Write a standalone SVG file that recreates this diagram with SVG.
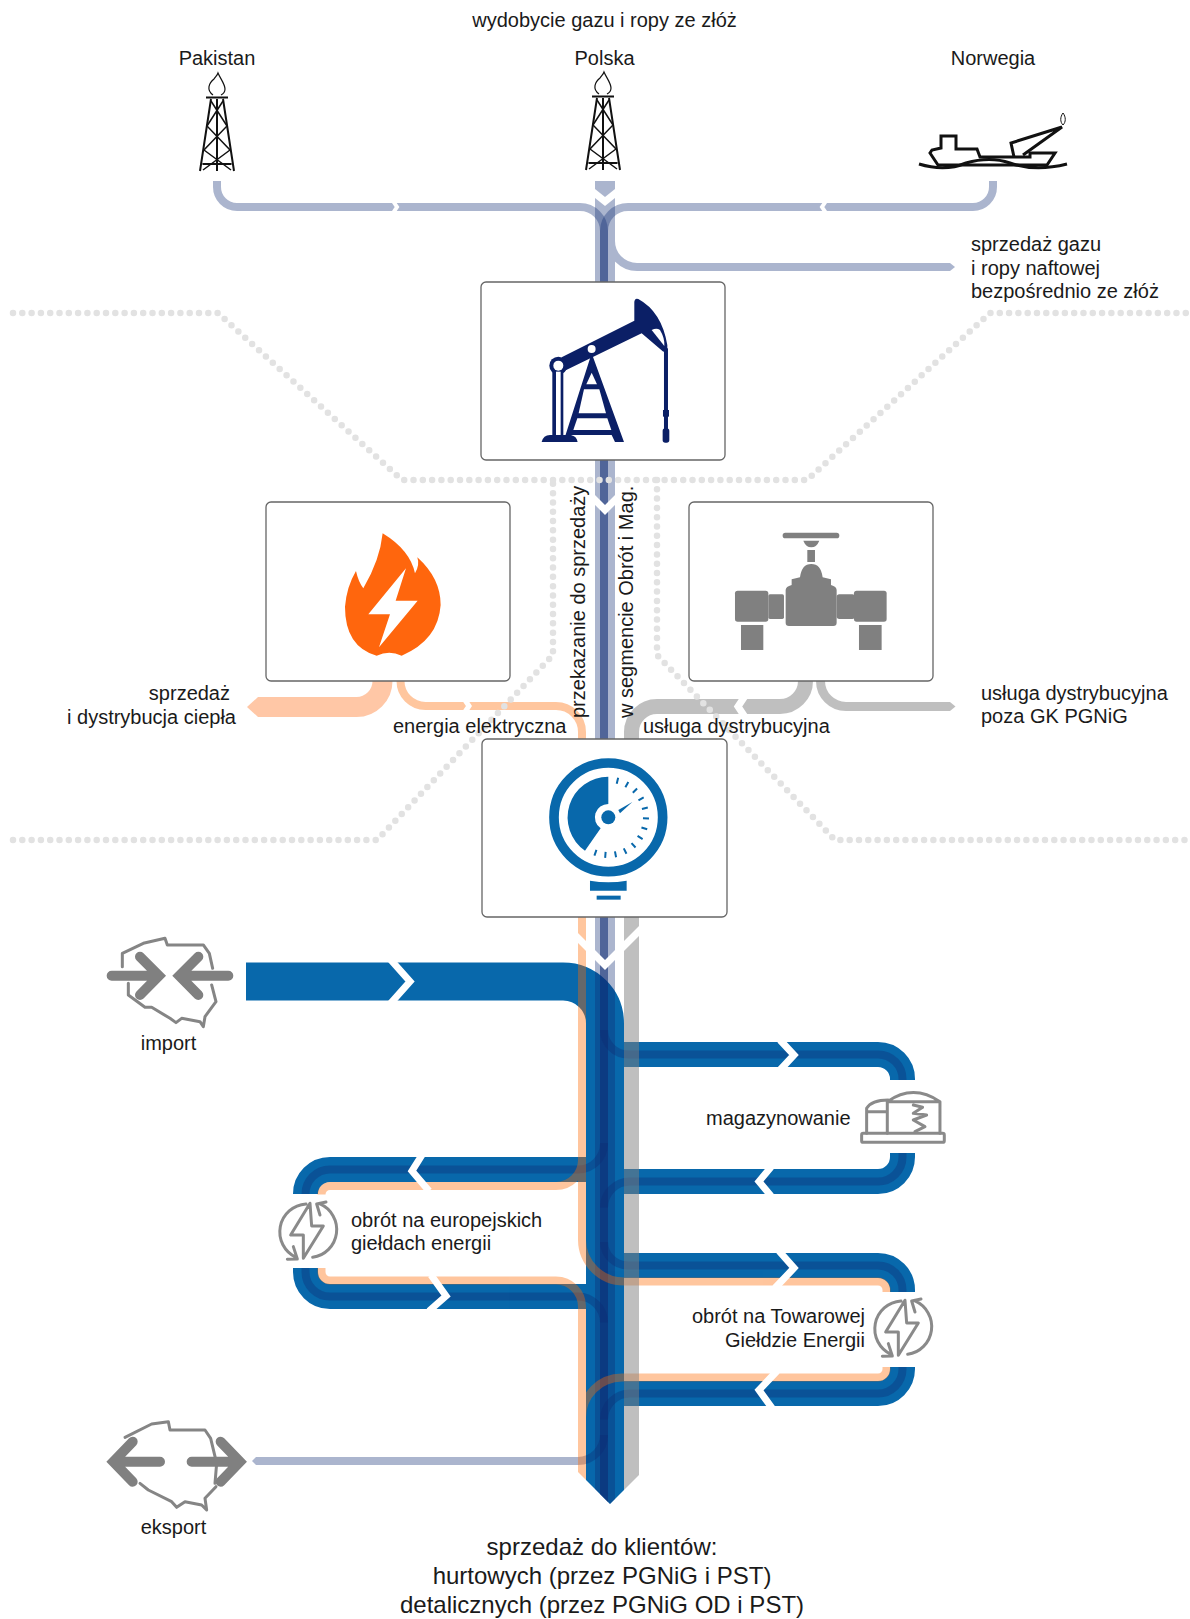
<svg xmlns="http://www.w3.org/2000/svg" xmlns:xlink="http://www.w3.org/1999/xlink" width="1190" height="1619" viewBox="0 0 1190 1619">
<style>
text{font-family:"Liberation Sans",Arial,sans-serif;font-size:20px;fill:#1a1a1a}
text.big{font-size:24px}
.box{fill:#fff;stroke:#666;stroke-width:1.3}
.n{fill:none;stroke:#0d2a73;stroke-opacity:.35;stroke-width:8}
.nf{fill:#0d2a73;fill-opacity:.35}
.b{fill:none;stroke:#0868ab;stroke-width:25}
.p{fill:none;stroke:#ff6a00;stroke-width:8}
.g{fill:none;stroke:#808080;stroke-opacity:.5}
.w{fill:none;stroke:#fff;stroke-linejoin:miter}
.dot{fill:none;stroke:#e2e2e2;stroke-width:6.500;stroke-linecap:round;stroke-dasharray:0 9.3}
.k{fill:none;stroke:#111}
.ic{fill:none;stroke:#8a8a8a;stroke-width:9;stroke-linejoin:round;stroke-linecap:round}
.map{fill:none;stroke:#858585;stroke-width:9;stroke-linejoin:round;stroke-linecap:round}
.arr{fill:none;stroke:#808080;stroke-width:30;stroke-linecap:round;stroke-linejoin:miter}
</style>
<defs>
<clipPath id="tip"><polygon points="0,0 1190,0 1190,1470 644,1470 610,1504 576,1470 0,1470"/></clipPath>
<clipPath id="right"><rect x="615" y="200" width="400" height="100"/></clipPath>
<g id="derrick">
<path class="k" stroke-width="2" d="M-17,171 L-6,99 M17,171 L6,99 M0,99 V171 M-11,97.500 H11 M-14.500,164 H14.500"/>
<path class="k" stroke-width="1.500" d="M-6,101 L10,126 L-13,150 L14,170 M6,101 L-10,126 L13,150 L-14,170"/>
<path class="k" stroke-width="1.200" d="M-4,95 C-11,90 -8,83 -3,79 C-2,77 0,76 1,73 C3,78 8,84 8,89 C8,92 6,94 4,95"/>
</g>
<g id="cycle">
<path class="ic" d="M108,192 A84,84 0 0 0 78,352 M128,352 A84,84 0 0 0 150,192 M168,186 L140,192 L150,225 M52,358 L82,357 L70,320 M120,190 L62,285 L100,285 L100,355 L160,258 L125,258 Z" transform="scale(.3333)"/>
</g>
</defs>

<g id="connectors">
<g clip-path="url(#tip)">
<path d="M246,981.500 H563 A42,42 0 0 1 605,1023.500 V1504" fill="none" stroke="#0868ab" stroke-width="38"/>
</g>
<path class="b" d="M605,1054.500 H878 A24.500,24.500 0 0 1 902.500,1079 V1080"/>
<path class="b" d="M902.500,1153 V1157 A24.500,24.500 0 0 1 878,1181.500 H605"/>
<path class="b" d="M605,1265.500 H878 A24.500,24.500 0 0 1 902.500,1290 V1292"/>
<path class="b" d="M902.500,1367 V1369 A24.500,24.500 0 0 1 878,1393.500 H605"/>
<path class="b" d="M590,1169.500 H330 A24.500,24.500 0 0 0 305.500,1194"/>
<path class="b" d="M305.500,1268 V1272 A24.500,24.500 0 0 0 330,1296.500 H590"/>

<polygon class="nf" points="595,181 615,181 615,189 605,197 595,189"/>
<polygon class="nf" points="595,198 605,206 615,198 615,282 595,282"/>
<path class="n" d="M217,181 V187 A20,20 0 0 0 237,207 H580 A24,24 0 0 1 604,231 V282"/>
<path class="n" d="M993,181 V187 A20,20 0 0 1 973,207 H628 A24,24 0 0 0 604,231 V282"/>
<path class="n" clip-path="url(#right)" d="M611,241 A26,26 0 0 0 637,267 H950"/>
<polygon class="nf" points="950,263 955,267 950,271"/>
<g clip-path="url(#tip)">
<rect class="nf" x="595" y="460" width="20" height="279"/>
<rect class="nf" x="600" y="460" width="8" height="279"/>
<rect class="nf" x="600" y="460" width="8" height="279"/>
<rect class="nf" x="595" y="917" width="20" height="587"/>
<rect class="nf" x="600" y="917" width="8" height="587"/>
<rect class="nf" x="600" y="917" width="8" height="587"/>
</g>
<path class="n" d="M604,1030 A24.500,24.500 0 0 0 628.500,1054.500 H878 A24.500,24.500 0 0 1 902.500,1079 V1080"/>
<path class="n" d="M902.500,1153 V1157 A24.500,24.500 0 0 1 878,1181.500 H630 A26,26 0 0 0 604,1207.500"/>
<path class="n" d="M604,1242 A24,24 0 0 0 628,1265.500 H878 A24.500,24.500 0 0 1 902.500,1290 V1292"/>
<path class="n" d="M902.500,1367 V1369 A24.500,24.500 0 0 1 878,1393.500 H630 A26,26 0 0 0 604,1419.500"/>
<path class="n" d="M604,1143 A26,26 0 0 1 578,1169.500 H330 A24.500,24.500 0 0 0 305.500,1194"/>
<path class="n" d="M305.500,1268 V1272 A24.500,24.500 0 0 0 330,1296.500 H578 A26,26 0 0 1 604,1322.500"/>
<path class="n" d="M256,1461 H578 A26,26 0 0 0 604,1435"/>
<polygon class="nf" points="252,1461 256,1457 256,1465"/>

<path d="M382.500,681 A26,26 0 0 1 356.500,707 H258" fill="none" stroke="#ffc7a6" stroke-width="20"/>
<polygon points="258,697 247,707 258,717" fill="#ffc7a6"/>
<g clip-path="url(#tip)">
<g opacity=".38">
<path class="p" d="M400.500,681 A25,25 0 0 0 425.500,706 H556 A26,26 0 0 1 582,732 V1240 A42,42 0 0 0 624,1281.500 H878 A8.500,8.500 0 0 1 886.500,1290 V1292"/>
<path class="p" d="M886.500,1367 V1369 A8.500,8.500 0 0 1 878,1377.500 H622 A40,40 0 0 0 582,1417.500 V1480"/>
<path class="p" d="M582,1160 A26,26 0 0 1 556,1186 H330 A8.500,8.500 0 0 0 321.500,1194.500"/>
<path class="p" d="M321.500,1268 V1272 A8.500,8.500 0 0 0 330,1280.500 H556 A26,26 0 0 1 582,1306.500 V1417.500"/>
</g>
<path class="g" stroke-width="15" d="M805.500,681 A25.500,25.500 0 0 1 780,706.500 H657 A25.500,25.500 0 0 0 631.500,732 V1504"/>
</g>
<path class="g" stroke-width="9" d="M820.500,681 A25.500,25.500 0 0 0 846,706.500 H950"/>
<polygon points="950,702 955.500,706.500 950,711" fill="#bfbfbf"/>

<path class="w" stroke-width="4" d="M393,201 L397,207 L393,213"/>
<path class="w" stroke-width="4" d="M826,201 L822,207 L826,213"/>
<path class="w" stroke-width="5" d="M465,700 L469,706 L465,712"/>
<path class="w" stroke-width="7" d="M745,696 L738,706.500 L745,717"/>
<path class="w" stroke-width="7" d="M588,493 L605,510 L622,493"/>
<path class="w" stroke-width="7" d="M568,928 L605,965 L644,926"/>
<path class="w" stroke-width="7" d="M390,959 L410,981.500 L390,1004"/>
<path class="w" stroke-width="7" d="M780,1040 L794,1055 L780,1070"/>
<path class="w" stroke-width="7" d="M771,1167 L759,1181.500 L771,1196"/>
<path class="w" stroke-width="7" d="M779,1251 L794,1268 L775,1288"/>
<path class="w" stroke-width="7" d="M777,1371 L759,1390 L772,1408"/>
<path class="w" stroke-width="7" d="M422,1155 L412,1171 L429,1191"/>
<path class="w" stroke-width="7" d="M431,1275 L446,1296 L429,1311"/>
</g>

<g id="zones">
<path class="dot" d="M13,313 H218 L402,480 H807 L990,313 H1196"/>
<path class="dot" d="M13,840 H377 L553,655 V480"/>
<path class="dot" d="M657,480 V655 L835,840 H1196"/>
</g>

<g id="node-pakistan"><use xlink:href="#derrick" href="#derrick" x="217" y="0"/><text x="217" y="65" text-anchor="middle">Pakistan</text></g>
<g id="node-polska"><use xlink:href="#derrick" href="#derrick" x="603" y="-1"/><text x="604.500" y="65" text-anchor="middle">Polska</text></g>
<g id="node-norwegia">
<text x="993" y="65" text-anchor="middle">Norwegia</text>
<path class="k" stroke-width="3" d="M930,153 L938,165 H1047 L1055,153 H1030 V157 H980 L977,149 H956 V136 H941 V148 L932,150 Z"/>
<path class="k" stroke-width="3" d="M1014,157 L1011,143 L1062,127 L1023,155"/>
<path class="k" stroke-width="3" d="M919,164 Q945,172 966,163 Q990,156 1010,163 Q1035,172 1067,164"/>
<path class="k" stroke-width="1" d="M1063,113 C1060,117 1060,122 1063,125 C1066,122 1066,117 1063,113 Z"/>
</g>

<g id="node-wydobycie"><rect class="box" x="481" y="282" width="244" height="178" rx="5"/>
<g transform="translate(470 270) scale(.3333)" fill="#0b1f66">
<path d="M275,262 L493,152 V95 Q495,83 505,87 Q575,125 592,225 V240 L580,245 L515,190 L278,305 Z"/>
<circle cx="265" cy="287" r="27"/>
<path d="M365,250 L462,516 H435 L425,495 H305 L298,516 H280 Z"/>
<rect x="247" y="300" width="33" height="200"/>
<path d="M215,516 Q220,495 240,495 H300 Q320,497 323,516 Z"/>
<rect x="582" y="235" width="12" height="260"/>
<rect x="579" y="420" width="18" height="20"/>
<rect x="578" y="475" width="20" height="43" rx="8"/>
<g fill="#fff">
<path d="M545,180 Q560,172 570,180 Q585,205 583,228 Z"/>
<circle cx="265" cy="287" r="15"/><circle cx="365" cy="237" r="12"/>
<rect x="258" y="305" width="14" height="190"/>
<polygon points="365,308 381,343 349,343"/>
<polygon points="342,358 388,358 408,430 326,430"/>
<polygon points="322,445 412,445 424,480 310,480"/>
</g></g></g>

<g id="node-cieplo"><rect class="box" x="266" y="502" width="244" height="179" rx="5"/>
<g transform="translate(230 490) scale(.3333)">
<path fill="#ff660d" d="M458,130 Q540,180 555,250 Q570,225 562,202 Q632,265 632,345 Q625,450 515,497 Q478,480 440,497 Q345,470 345,350 Q350,290 378,243 Q385,275 400,295 Q450,210 458,130 Z"/>
<path fill="#fff" d="M528,235 L415,373 H480 L447,472 L563,332 H497 Z"/>
</g></g>

<g id="node-dystrybucja"><rect class="box" x="689" y="502" width="244" height="179" rx="5"/>
<g transform="translate(600 490) scale(.3333)" fill="#808080">
<rect x="548" y="128" width="170" height="17" rx="8"/>
<path d="M610,152 H658 Q650,172 634,172 Q618,172 610,152 Z"/>
<rect x="622" y="180" width="23" height="36"/>
<path d="M557,300 Q557,290 575,285 L575,268 L600,262 Q605,222 634,222 Q663,222 668,262 L693,268 V285 Q710,290 710,300 V398 Q710,408 700,408 H567 Q557,408 557,398 Z"/>
<rect x="405" y="302" width="100" height="93" rx="8"/>
<rect x="505" y="313" width="47" height="74" rx="5"/>
<rect x="710" y="313" width="55" height="74" rx="8"/>
<rect x="762" y="302" width="98" height="93" rx="8"/>
<rect x="423" y="405" width="67" height="75"/>
<rect x="777" y="405" width="68" height="75"/>
</g></g>

<g id="node-obrot"><rect class="box" x="482" y="739" width="245" height="178" rx="5"/>
<g transform="translate(470 730) scale(.3333)" fill="#0868ab">
<circle cx="415" cy="262" r="163" fill="none" stroke="#0868ab" stroke-width="29"/>
<path d="M415,140 A122,122 0 0 0 345,362 L392,295 A40,40 0 0 1 415,222 Z"/>
<circle cx="415" cy="262" r="21"/>
<polygon points="445,240 487,216 450,250"/>
<path fill="none" stroke="#0868ab" stroke-width="6" d="M444.500,143.600 L440.200,161.100 M475,155.900 L466.200,171.500 M501.300,175.700 L488.500,188.500 M521.100,202 L505.500,210.800 M533.400,232.500 L515.900,236.800 M537,265.200 L519,264.700 M531.700,297.700 L514.400,292.400 M517.900,327.500 L502.700,317.800 M496.600,352.600 L484.600,339.300 M469.400,371.200 L461.400,355.100 M438.300,381.800 L434.900,364.100 M405.500,383.600 L406.900,365.700 M373.300,376.700 L379.400,359.800"/>
<path d="M360,452 Q415,462 470,452 V482 H360 Z"/>
<rect x="380" y="497" width="72" height="12"/>
</g></g>

<g id="node-import">
<g transform="translate(90 920) scale(.3333)">
<path class="map" d="M97,140 L97,100 L160,70 L225,55 L232,75 L340,75 L358,100 L368,145 M115,190 L115,225 L165,262 L185,262 L240,295 L258,308 L275,295 L330,305 L340,320 L345,290 L378,245 L365,195"/>
<path class="arr" d="M65,167 H200 M150,110 L207,167 L150,225 M415,167 H275 M325,110 L268,167 L325,225"/>
</g>
<text x="168.500" y="1050" text-anchor="middle">import</text>
</g>

<g id="node-eksport">
<g transform="translate(90 1400) scale(.3333)">
<path class="map" d="M105,112 L185,72 L235,65 L240,90 L345,90 L362,115 L380,190 L375,250 M150,250 L175,270 L245,305 L260,322 L285,305 L335,315 L350,330 L345,295 L378,260"/>
<path class="arr" d="M210,185 H75 M128,125 L70,185 L128,245 M305,185 H445 M392,125 L450,185 L392,245"/>
</g>
<text x="173.500" y="1534" text-anchor="middle">eksport</text>
</g>

<g id="node-magazynowanie">
<g transform="translate(560 1020) scale(.3333)">
<rect class="ic" x="905" y="340" width="248" height="27" rx="5"/>
<path class="ic" d="M920,340 V265 Q935,240 985,240 M920,275 H978 M982,340 V245 Q1060,190 1140,245 V340 M985,245 H1135 M1060,255 L1088,262 L1060,280 L1100,285 L1060,300 L1095,320 L1065,335"/>
</g>
<text x="706" y="1124.500">magazynowanie</text>
</g>

<g id="node-gieldy"><use xlink:href="#cycle" href="#cycle" x="270" y="1140"/>
<text x="351" y="1226.500">obrót na europejskich</text>
<text x="351" y="1250">giełdach energii</text></g>

<g id="node-tge"><use xlink:href="#cycle" href="#cycle" x="865" y="1237"/>
<text x="865" y="1322.500" text-anchor="end">obrót na Towarowej</text>
<text x="865" y="1347" text-anchor="end">Giełdzie Energii</text></g>

<g id="labels">
<text x="604.500" y="27" text-anchor="middle">wydobycie gazu i ropy ze złóż</text>
<text x="971" y="251">sprzedaż gazu</text>
<text x="971" y="275">i ropy naftowej</text>
<text x="971" y="298">bezpośrednio ze złóż</text>
<text x="230" y="700" text-anchor="end">sprzedaż</text>
<text x="236" y="724" text-anchor="end">i dystrybucja ciepła</text>
<text x="393" y="733">energia elektryczna</text>
<text x="643" y="733">usługa dystrybucyjna</text>
<text x="981" y="700">usługa dystrybucyjna</text>
<text x="981" y="723">poza GK PGNiG</text>
<text x="585" y="718" transform="rotate(-90 585 718)">przekazanie do sprzedaży</text>
<text x="633" y="718" transform="rotate(-90 633 718)">w segmencie Obrót i Mag.</text>
<text class="big" x="602" y="1555" text-anchor="middle">sprzedaż do klientów:</text>
<text class="big" x="602" y="1584" text-anchor="middle">hurtowych (przez PGNiG i PST)</text>
<text class="big" x="602" y="1613" text-anchor="middle">detalicznych (przez PGNiG OD i PST)</text>
</g>
</svg>
